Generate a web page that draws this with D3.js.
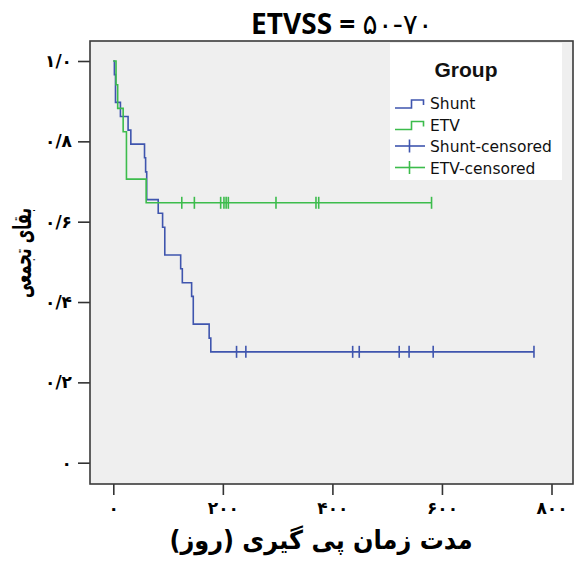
<!DOCTYPE html>
<html>
<head>
<meta charset="utf-8">
<script src="https://cdn.jsdelivr.net/npm/d3@7"></script>
<style>
  html, body { margin: 0; padding: 0; background: #ffffff; }
  svg { display: block; }
</style>
</head>
<body>
<div id="chart"></div>
<script>
// ---------------- data ----------------
const titleLabel = "ETVSS = ";
const titleRange = "۵۰-۷۰";
const xAxisTitle = "مدت زمان پی گیری (روز)";
const yAxisTitle = "بقای تجمعی";
const legendTitle = "Group";
const legendLabels = ["Shunt", "ETV", "Shunt-censored", "ETV-censored"];

const xTicks = [0, 200, 400, 600, 800];
const xTickLabels = ["۰", "۲۰۰", "۴۰۰", "۶۰۰", "۸۰۰"];
const yTicks = [0, 0.2, 0.4, 0.6, 0.8, 1.0];
const yTickLabels = ["۰", "۰/۲", "۰/۴", "۰/۶", "۰/۸", "۱/۰"];

// Kaplan-Meier step points (time in days, cumulative survival)
const shuntTimes = [0, 2, 4, 13, 27, 32, 57, 59, 61, 82, 90, 94, 123, 126, 143, 146, 175, 178];
const shuntSurv  = [1.0, 0.966, 0.897, 0.862, 0.828, 0.793, 0.759, 0.724, 0.655, 0.621, 0.586, 0.517, 0.483, 0.448, 0.414, 0.345, 0.310, 0.276];
const shuntCensored = [225, 242, 437, 449, 522, 540, 584, 768];

const etvTimes = [0, 5, 8, 18, 24, 60];
const etvSurv  = [1.0, 0.941, 0.882, 0.824, 0.706, 0.647];
const etvCensored = [125, 148, 196, 202, 206, 210, 297, 370, 375, 581];

// ---------------- layout ----------------
const W = 580, H = 562;
const frame = { left: 90, right: 573, top: 41, bottom: 484 };
const blue = "#3f55ae";
const green = "#3cbc4c";

const svg = d3.select("#chart").append("svg")
  .attr("width", W).attr("height", H)
  .attr("viewBox", `0 0 ${W} ${H}`);

svg.append("rect").attr("x", 0).attr("y", 0).attr("width", W).attr("height", H).attr("fill", "#ffffff");

const x = d3.scaleLinear().domain([0, 800]).range([113.3, 551.5]);
const y = d3.scaleLinear().domain([0, 1]).range([462.7, 61]);

// plot background
svg.append("rect")
  .attr("x", frame.left).attr("y", frame.top)
  .attr("width", frame.right - frame.left).attr("height", frame.bottom - frame.top)
  .attr("fill", "#efefef");

// title
const tt = svg.append("text")
  .attr("x", 342).attr("y", 34)
  .attr("text-anchor", "middle")
  .attr("font-size", 28)
  .attr("fill", "#000");
tt.append("tspan")
  .attr("font-family", "'Open Sans', sans-serif")
  .attr("font-weight", "bold")
  .text(titleLabel);
tt.append("tspan")
  .attr("font-family", "'DejaVu Sans', sans-serif")
  .attr("font-weight", "normal")
  .attr("letter-spacing", 1)
  .text(titleRange);

// axes
const xAxis = d3.axisBottom(x)
  .tickValues(xTicks)
  .tickFormat((d, i) => xTickLabels[i])
  .tickSize(11).tickPadding(7);
const gx = svg.append("g").attr("transform", `translate(0,${frame.bottom})`).call(xAxis);
gx.select(".domain").remove();
gx.selectAll(".tick line").attr("stroke", "#333").attr("stroke-width", 1.6);
gx.selectAll(".tick text")
  .attr("font-family", "'DejaVu Sans', sans-serif")
  .attr("font-weight", "bold")
  .attr("font-size", 17)
  .attr("letter-spacing", 2)
  .attr("fill", "#000");

const yAxis = d3.axisLeft(y)
  .tickValues(yTicks)
  .tickFormat((d, i) => yTickLabels[i])
  .tickSize(12).tickPadding(6);
const gy = svg.append("g").attr("transform", `translate(${frame.left},0)`).call(yAxis);
gy.select(".domain").remove();
gy.selectAll(".tick line").attr("stroke", "#333").attr("stroke-width", 1.6);
gy.selectAll(".tick text")
  .attr("font-family", "'DejaVu Sans', sans-serif")
  .attr("font-weight", "bold")
  .attr("font-size", 17)
  .attr("fill", "#000");

// curves
function stepData(times, surv, censored) {
  const pts = times.map((t, i) => [t, surv[i]]);
  const lastT = Math.max(times[times.length - 1], d3.max(censored));
  pts.push([lastT, surv[surv.length - 1]]);
  return pts;
}
function survAt(times, surv, t) {
  let s = surv[0];
  for (let i = 0; i < times.length; i++) if (times[i] <= t) s = surv[i];
  return s;
}
const line = d3.line().x(d => x(d[0])).y(d => y(d[1])).curve(d3.curveStepAfter);

const groups = [
  { times: shuntTimes, surv: shuntSurv, cens: shuntCensored, color: blue },
  { times: etvTimes, surv: etvSurv, cens: etvCensored, color: green }
];
groups.forEach(g => {
  svg.append("path")
    .datum(stepData(g.times, g.surv, g.cens))
    .attr("d", line)
    .attr("fill", "none")
    .attr("stroke", g.color)
    .attr("stroke-width", 1.6);
  svg.append("g").selectAll("line").data(g.cens).join("line")
    .attr("x1", d => x(d)).attr("x2", d => x(d))
    .attr("y1", d => y(survAt(g.times, g.surv, d)) - 6)
    .attr("y2", d => y(survAt(g.times, g.surv, d)) + 6)
    .attr("stroke", g.color)
    .attr("stroke-width", 1.6);
});

// frame
svg.append("rect")
  .attr("x", frame.left).attr("y", frame.top)
  .attr("width", frame.right - frame.left).attr("height", frame.bottom - frame.top)
  .attr("fill", "none").attr("stroke", "#3a3a3a").attr("stroke-width", 1.6);

// legend
const lg = svg.append("g");
lg.append("rect").attr("x", 390).attr("y", 43).attr("width", 172).attr("height", 137).attr("fill", "#ffffff");
lg.append("text")
  .attr("x", 466).attr("y", 77)
  .attr("text-anchor", "middle")
  .attr("font-family", "'Liberation Sans', Arial, sans-serif")
  .attr("font-weight", "bold").attr("font-size", 21)
  .attr("fill", "#111")
  .text(legendTitle);

const legendColors = [blue, green, blue, green];
const baselines = [109, 130.5, 152, 173.5];
legendLabels.forEach((lab, i) => {
  const b = baselines[i];
  const c = legendColors[i];
  if (i < 2) {
    const low = b - 1, high = b - 9;
    lg.append("path")
      .attr("d", `M395,${low}H411.5V${high}H423.5V${b - 4}`)
      .attr("fill", "none").attr("stroke", c).attr("stroke-width", 1.6);
  } else {
    const mid = b - 6;
    lg.append("line").attr("x1", 395).attr("x2", 425).attr("y1", mid).attr("y2", mid)
      .attr("stroke", c).attr("stroke-width", 1.6);
    lg.append("line").attr("x1", 409.5).attr("x2", 409.5).attr("y1", mid - 6.5).attr("y2", mid + 6.5)
      .attr("stroke", c).attr("stroke-width", 1.6);
  }
  lg.append("text")
    .attr("x", 430).attr("y", b)
    .attr("font-family", "'DejaVu Sans', sans-serif")
    .attr("font-size", 15.5)
    .attr("fill", "#111")
    .text(lab);
});

// axis titles
svg.append("text")
  .attr("x", 321).attr("y", 549)
  .attr("text-anchor", "middle")
  .attr("direction", "rtl")
  .attr("font-family", "'DejaVu Sans', sans-serif")
  .attr("font-weight", "bold")
  .attr("font-size", 26)
  .attr("textLength", 303)
  .attr("lengthAdjust", "spacingAndGlyphs")
  .attr("fill", "#000")
  .text(xAxisTitle);

svg.append("text")
  .attr("transform", "translate(31,253) rotate(-90)")
  .attr("text-anchor", "middle")
  .attr("direction", "rtl")
  .attr("font-family", "'DejaVu Sans', sans-serif")
  .attr("font-weight", "bold")
  .attr("font-size", 25)
  .attr("textLength", 90)
  .attr("lengthAdjust", "spacingAndGlyphs")
  .attr("fill", "#000")
  .text(yAxisTitle);
</script>
</body>
</html>
